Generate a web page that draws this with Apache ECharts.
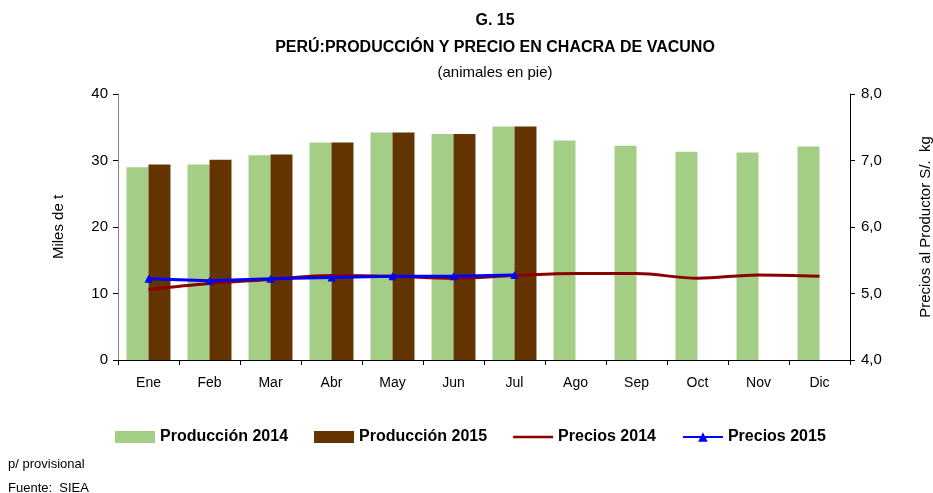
<!DOCTYPE html>
<html>
<head>
<meta charset="utf-8">
<script src="https://cdn.jsdelivr.net/npm/echarts@6/dist/echarts.min.js"></script>
<style>
  html, body { margin: 0; padding: 0; background: #fff; }
  #root { width: 933px; height: 493px; }
</style>
</head>
<body>
<div id="root"></div>
<script>
var months = ['Ene', 'Feb', 'Mar', 'Abr', 'May', 'Jun', 'Jul', 'Ago', 'Sep', 'Oct', 'Nov', 'Dic'];

// miles de t
var prod2014 = [29.0, 29.4, 30.8, 32.7, 34.2, 34.0, 35.1, 33.0, 32.2, 31.3, 31.2, 32.1];
var prod2015 = [29.4, 30.1, 30.9, 32.7, 34.2, 34.0, 35.1];

// S/. kg
var precio2014 = [5.06, 5.15, 5.21, 5.27, 5.26, 5.23, 5.27, 5.30, 5.30, 5.23, 5.28, 5.26];
var precio2015 = [5.22, 5.19, 5.22, 5.24, 5.26, 5.26, 5.28];

var font = 'Liberation Sans, Arial, sans-serif';

var chart = echarts.init(document.getElementById('root'));

var option = {
	animation: false,
	backgroundColor: '#fff',
	title: [
		{ text: 'G. 15', left: 490, top: 8, textAlign: 'center',
		  textStyle: { fontFamily: font, fontSize: 16, fontWeight: 'bold', color: '#000' } },
		{ text: 'PERÚ:PRODUCCIÓN Y PRECIO EN CHACRA DE VACUNO', left: 490, top: 35, textAlign: 'center',
		  textStyle: { fontFamily: font, fontSize: 16, fontWeight: 'bold', color: '#000' } },
		{ text: '(animales en pie)', left: 490, top: 60, textAlign: 'center',
		  textStyle: { fontFamily: font, fontSize: 15, fontWeight: 'normal', color: '#000' } }
	],
	graphic: [
		{ type: 'text', left: 8, top: 458, style: { text: 'p/ provisional', font: '13px ' + font, fill: '#000' } },
		{ type: 'text', left: 8, top: 482, style: { text: 'Fuente:  SIEA', font: '13px ' + font, fill: '#000' } }
	],
	legend: {
		top: 424,
		left: 110,
		itemWidth: 40,
		itemHeight: 12,
		itemGap: 26,
		textStyle: { fontFamily: font, fontSize: 16, fontWeight: 'bold', color: '#000' },
		data: [
			{ name: 'Producción 2014', icon: 'rect' },
			{ name: 'Producción 2015', icon: 'rect' },
			{ name: 'Precios 2014', icon: 'path://M0,5 L40,5 L40,7.5 L0,7.5 Z' },
			{ name: 'Precios 2015' }
		]
	},
	grid: { left: 118, right: 83, top: 94, bottom: 133, outerBoundsMode: 'none' },
	xAxis: {
		type: 'category',
		data: months,
		axisLine: { lineStyle: { color: '#000' } },
		axisTick: { show: true, alignWithLabel: false, length: 5, lineStyle: { color: '#000' } },
		axisLabel: { fontFamily: font, fontSize: 14, color: '#000', margin: 16 }
	},
	yAxis: [
		{
			type: 'value',
			min: 0, max: 40, interval: 10,
			name: 'Miles de t',
			nameLocation: 'middle',
			nameGap: 52,
			nameRotate: 90,
			nameTextStyle: { fontFamily: font, fontSize: 15, color: '#000' },
			axisLine: { show: true, lineStyle: { color: '#808080' } },
			axisTick: { show: true, length: 5, lineStyle: { color: '#000' } },
			axisLabel: { fontFamily: font, fontSize: 15, color: '#000', margin: 10 },
			splitLine: { show: false }
		},
		{
			type: 'value',
			min: 4, max: 8, interval: 1,
			name: 'Precios al Productor S/.  kg',
			nameLocation: 'middle',
			nameGap: 68,
			nameRotate: 90,
			nameTextStyle: { fontFamily: font, fontSize: 15, color: '#000' },
			axisLine: { show: true, lineStyle: { color: '#000' } },
			axisTick: { show: true, length: 5, lineStyle: { color: '#000' } },
			axisLabel: {
				fontFamily: font, fontSize: 15, color: '#000', margin: 11,
				formatter: function (v) { return v.toFixed(1).replace('.', ','); }
			},
			splitLine: { show: false }
		}
	],
	series: [
		{
			name: 'Producción 2014',
			type: 'bar',
			data: prod2014,
			barGap: '0%',
			barCategoryGap: '28%',
			itemStyle: { color: '#a4cd85' }
		},
		{
			name: 'Producción 2015',
			type: 'bar',
			data: prod2015,
			itemStyle: { color: '#633300' }
		},
		{
			name: 'Precios 2014',
			type: 'line',
			yAxisIndex: 1,
			data: precio2014,
			smooth: 0.35,
			showSymbol: false,
			symbol: 'none',
			lineStyle: { color: '#8b0000', width: 3 },
			itemStyle: { color: '#8b0000' }
		},
		{
			name: 'Precios 2015',
			type: 'line',
			yAxisIndex: 1,
			data: precio2015,
			symbol: 'triangle',
			symbolSize: 8,
			lineStyle: { color: '#0000ff', width: 3 },
			itemStyle: { color: '#0000ff' }
		}
	]
};

chart.setOption(option);
</script>
</body>
</html>
